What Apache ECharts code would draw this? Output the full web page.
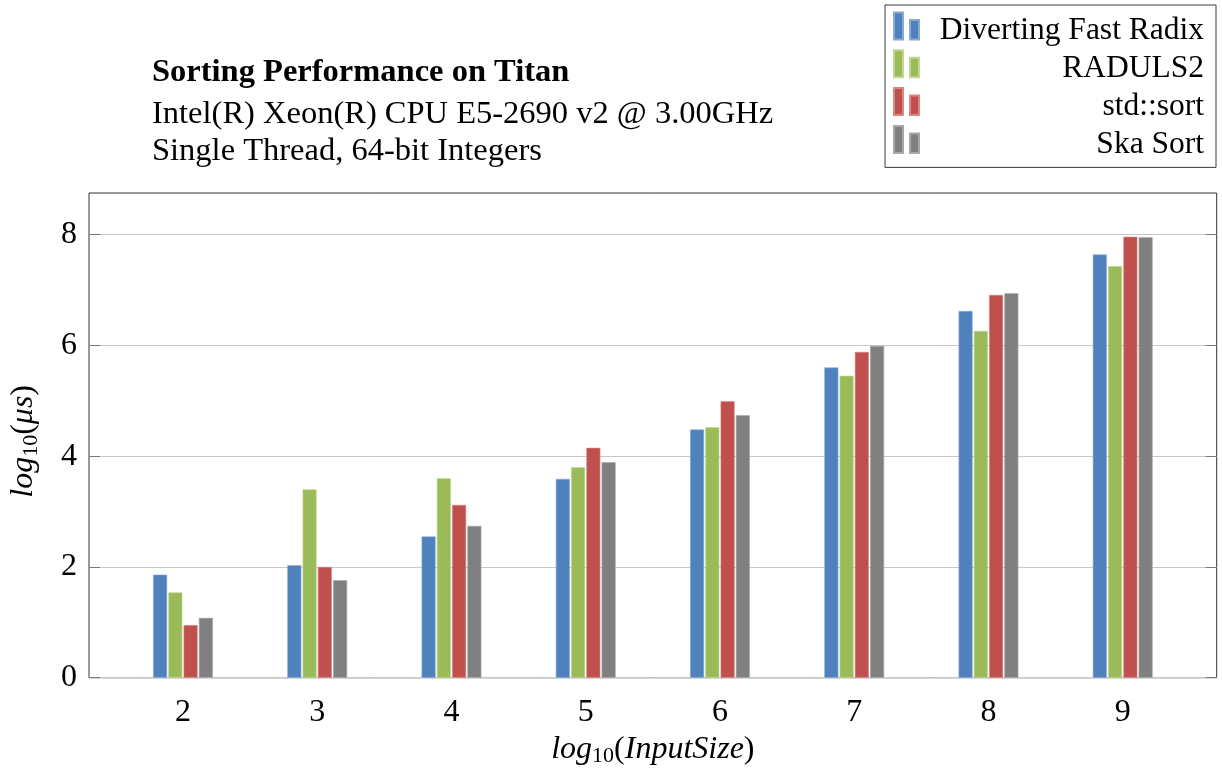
<!DOCTYPE html>
<html>
<head>
<meta charset="utf-8">
<title>Sorting Performance on Titan</title>
<script src="https://cdn.jsdelivr.net/npm/echarts@6/dist/echarts.min.js"></script>
<style>
  html, body { margin: 0; padding: 0; background: #ffffff; }
  #chart { width: 1222px; height: 777px; }
</style>
</head>
<body>
<div id="chart"></div>
<script>
// log10 of the input size
const inputSizes = [2, 3, 4, 5, 6, 7, 8, 9];

// log10 of the running time in microseconds, one value per input size
const divertingFastRadix = [1.86, 2.03, 2.55, 3.59, 4.48, 5.60, 6.62, 7.64];
const raduls2            = [1.54, 3.40, 3.60, 3.80, 4.52, 5.45, 6.26, 7.43];
const stdSort            = [0.95, 2.00, 3.12, 4.15, 4.99, 5.88, 6.91, 7.96];
const skaSort            = [1.08, 1.76, 2.74, 3.89, 4.74, 5.99, 6.94, 7.95];

const seriesNames = ['Diverting Fast Radix', 'RADULS2', 'std::sort', 'Ska Sort'];
const yTicks = [0, 2, 4, 6, 8];

const SERIF = "'Liberation Serif', 'DejaVu Serif', serif";
const colors = ['#4F81BD', '#9BBB59', '#C0504D', '#808080'];
const edgeColors = ['#8AAAD6', '#C0D693', '#D98886', '#A8A8A8'];

const chart = echarts.init(document.getElementById('chart'), null, { renderer: 'canvas' });

// rich-text pieces for the math-style axis names (italic letters, upright subscript)
const nameRich = {
  i: { fontFamily: SERIF, fontStyle: 'italic', fontSize: 32, lineHeight: 32, verticalAlign: 'top', color: '#000' },
  r: { fontFamily: SERIF, fontSize: 32, lineHeight: 32, verticalAlign: 'top', color: '#000' },
  s: { fontFamily: SERIF, fontSize: 22, lineHeight: 22, verticalAlign: 'top', padding: [12, 0, 0, 0], color: '#000' }
};

function barSeries(name, values, idx) {
  return {
    name: name,
    type: 'bar',
    xAxisIndex: 0,
    yAxisIndex: 0,
    barWidth: 14,
    barGap: '9%',
    itemStyle: { color: colors[idx], borderColor: edgeColors[idx], borderWidth: 0.6 },
    emphasis: { disabled: true },
    data: inputSizes.map((s, k) => [s, values[k]])
  };
}

const option = {
  backgroundColor: '#ffffff',
  animation: false,
  color: colors,
  title: [
    {
      text: 'Sorting Performance on Titan',
      left: 152, top: 57, padding: 0,
      textStyle: { fontFamily: SERIF, fontWeight: 'bold', fontSize: 32.5, lineHeight: 32, color: '#000' }
    },
    {
      text: 'Intel(R) Xeon(R) CPU E5-2690 v2 @ 3.00GHz',
      left: 152, top: 98, padding: 0,
      textStyle: { fontFamily: SERIF, fontWeight: 'normal', fontSize: 32.5, lineHeight: 32, color: '#000' }
    },
    {
      text: 'Single Thread, 64-bit Integers',
      left: 152, top: 135, padding: 0,
      textStyle: { fontFamily: SERIF, fontWeight: 'normal', fontSize: 32.5, lineHeight: 32, color: '#000' }
    }
  ],
  legend: {
    data: seriesNames,
    orient: 'vertical',
    left: 885,
    top: 5,
    padding: [0, 12, 7, 8],
    itemGap: -4.2,
    itemWidth: 25,
    itemHeight: 27,
    icon: 'path://M0,0h9v27h-9z M16,7.5h9v19.5h-9z',
    borderColor: '#3a3a3a',
    borderWidth: 1,
    backgroundColor: '#ffffff',
    selectedMode: false,
    formatter: '{a|{name}}',
    textStyle: {
      fontFamily: SERIF,
      fontSize: 31.5,
      color: '#000',
      rich: {
        a: { fontFamily: SERIF, fontSize: 31.5, width: 280, align: 'right', lineHeight: 24, padding: [10, 0, 0, 0], color: '#000' }
      }
    }
  },
  grid: {
    left: 88,
    right: 5.3,
    top: 193,
    bottom: 99.3,
    show: true,
    borderColor: '#333333',
    borderWidth: 1,
    backgroundColor: 'transparent',
    containLabel: false
  },
  xAxis: [{
    type: 'value',
    min: 1.3,
    max: 9.7,
    axisLine: { show: false },
    axisTick: { show: false },
    splitLine: { show: false },
    axisLabel: {
      customValues: inputSizes,
      margin: 19,
      fontFamily: SERIF,
      fontSize: 32,
      color: '#000'
    },
    name: '{i|log}{s|10}{r|(}{i|InputSize}{r|)}',
    nameLocation: 'middle',
    nameGap: 56,
    nameTextStyle: { rich: nameRich }
  }],
  yAxis: [{
    type: 'value',
    min: 0,
    max: 8.75,
    interval: 2,
    position: 'left',
    axisLine: { show: false },
    axisTick: { show: true, inside: true, length: 11, customValues: yTicks, lineStyle: { color: '#7a7a7a', width: 1 } },
    splitLine: { show: true, lineStyle: { color: '#c8c8c8', width: 1 } },
    axisLabel: {
      customValues: yTicks,
      margin: 12,
      fontFamily: SERIF,
      fontSize: 32,
      color: '#000'
    },
    name: '{i|log}{s|10}{r|(}{i|μs}{r|)}',
    nameLocation: 'middle',
    nameGap: 49,
    nameTextStyle: { rich: nameRich, padding: [0, 12, 0, 0] }
  }, {
    type: 'value',
    min: 0,
    max: 8.75,
    interval: 2,
    position: 'right',
    axisLine: { show: false },
    axisTick: { show: true, inside: true, length: 11, customValues: yTicks, lineStyle: { color: '#7a7a7a', width: 1 } },
    splitLine: { show: false },
    axisLabel: { show: false }
  }],
  series: [
    barSeries(seriesNames[0], divertingFastRadix, 0),
    barSeries(seriesNames[1], raduls2, 1),
    barSeries(seriesNames[2], stdSort, 2),
    barSeries(seriesNames[3], skaSort, 3)
  ]
};

chart.setOption(option);
</script>
</body>
</html>
